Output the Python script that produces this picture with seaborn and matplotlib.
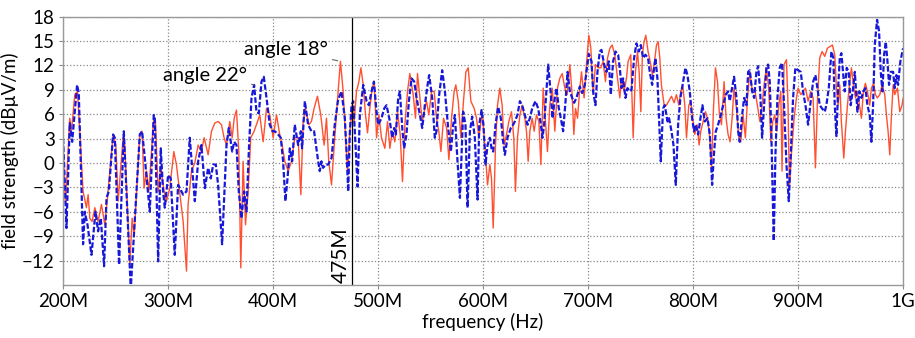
from __future__ import annotations

import matplotlib

matplotlib.use("Agg")
import matplotlib.pyplot as plt
import pandas as pd
import seaborn as sns

# angle 18 deg (orange, solid)
FREQ_18 = [
    200, 202.2, 206.3, 207.9, 211.1, 213.7, 219, 222.2, 223.8, 225.4,
    227.6, 230.2, 233.3, 236.5, 239.7, 242.2, 247.6, 250.2, 252.4, 257.1,
    258.7, 263.5, 265.7, 267.6, 273, 275.2, 277.1, 279.4, 281.6, 286.3,
    287.9, 290.5, 293, 296.2, 298.4, 301.6, 305.4, 307.9, 314.3, 317.5,
    319, 322.2, 325.4, 328.6, 331.7, 334.3, 338.1, 341.3, 344.4, 347.6,
    350.8, 353.3, 355.6, 358.7, 361, 362.9, 365.1, 367.3, 369.2, 371.4,
    373.7, 376.2, 378.7, 381.9, 385.1, 387.3, 390.5, 393.7, 396.8, 400,
    403.2, 406.3, 408.6, 411.1, 414.3, 417.5, 420.6, 423.8, 426.4, 428.6,
    430.8, 434, 436.5, 439, 442.2, 445.4, 448.6, 450.8, 453, 455.6,
    458.7, 461.9, 464.1, 466.7, 469, 470.9, 473.1, 475.3, 477.2, 479.4,
    481.7, 483.6, 485.8, 488, 489.9, 492.1, 494.4, 496.3, 498.5, 500.7,
    503.2, 506.4, 509, 511.2, 513.4, 515.9, 518.5, 521, 523.2, 525.5,
    528, 530.2, 533.4, 535.6, 537.5, 539.8, 542, 544.5, 546.1, 548.3,
    550.9, 553.4, 555.6, 557.8, 559.8, 562.3, 565.2, 567.4, 569.9, 572.4,
    574, 576.3, 578.8, 581.3, 583.6, 585.8, 588.3, 591.5, 593.7, 596,
    599.1, 601.6, 604.2, 606.4, 608, 609.6, 611.8, 613.7, 615.9, 618.1,
    620, 622.3, 624.5, 627, 629.2, 630.8, 632.7, 635, 637.2, 639.7,
    641.3, 642.9, 644.5, 646.7, 648.6, 650.8, 653.1, 655, 657.2, 659.4,
    661.3, 663.5, 665.8, 668.3, 670.8, 673, 675.3, 677.8, 680, 682.6,
    684.8, 686.4, 688, 689.9, 692.1, 693.7, 696.2, 698.4, 700.7, 702.6,
    704.8, 707, 709.6, 712.1, 714.3, 716.5, 718.5, 720.7, 722.9, 725.4,
    728, 730.2, 731.8, 734.3, 736.5, 738.1, 740.6, 742.9, 745.1, 747,
    748.6, 750.2, 751.7, 753.3, 754.9, 757.1, 759.7, 761.3, 762.9, 765.1,
    766.7, 768.3, 769.8, 772.4, 774.6, 776.8, 779.4, 781.9, 784.1, 786.4,
    788.3, 790.2, 792.1, 793.7, 795.9, 797.8, 800, 801.6, 803.8, 805.7,
    807.3, 809.5, 811.8, 813.7, 815.9, 817.5, 819.4, 821.3, 823.2, 825.1,
    827, 829.5, 831.4, 833.3, 835.2, 837.1, 839, 841.3, 843.5, 845.4,
    847.6, 849.8, 851.8, 854, 856.2, 858.7, 861.2, 863.5, 865.1, 867.6,
    869.8, 872, 874, 875.8, 877.7, 879.7, 881.6, 883.5, 884.7, 886.6,
    888.9, 890.4, 891.7, 893.6, 896.2, 898.4, 900, 902.5, 904.7, 907,
    909.5, 912, 914.3, 916.5, 918.4, 920.6, 922.8, 925.4, 927.9, 930.1,
    932.7, 934.9, 936.5, 938.1, 939.7, 941.2, 943.5, 945.1, 947, 948.9,
    950.8, 952.7, 954.6, 956.5, 958.4, 960.3, 962.2, 964.1, 966, 968.2,
    969.8, 972, 973.6, 975.5, 977.8, 980, 982.5, 984.1, 985.7, 987.3,
    988.9, 990.5, 992, 994.6, 996.8, 999, 1000,
]
FIELD_18 = [
    2.2, -5.1, 5.5, 3.9, 8.4, 8.8, -3.5, -5.5, -3.9, -6.8,
    -7.2, -5.5, -7.2, -5.1, -7.6, -4.3, 3.5, 2.2, -4.7, 3.1,
    2.2, -12.5, -6.8, -9.0, 3.5, 3.9, -3.1, -1.0, -3.5, 5.5,
    5.1, -3.5, -0.6, -3.5, -4.7, -3.1, 1.4, -0.2, -7.2, -13.3,
    -5.1, -1.0, 0.0, 2.2, 1.4, 3.1, 1.0, 3.9, 4.9, 5.1,
    4.7, 3.1, 2.2, 5.1, 3.1, 5.5, 6.5, 1.4, -12.9, 0.2,
    -7.6, -3.5, 3.1, 3.9, 5.1, 5.9, 2.6, 6.7, 5.9, 3.1,
    5.9, 3.5, 2.2, 0.2, -1.0, 0.2, 3.1, 3.1, -3.9, 5.1,
    6.7, 4.7, 5.1, 6.7, 8.2, 5.9, 2.2, 5.5, 0.2, -2.7,
    3.1, 8.8, 12.5, 8.8, 3.1, -1.0, 3.9, 7.1, 5.1, 8.8,
    10.0, 11.7, 9.6, 5.9, 3.7, 6.7, 9.2, 10.0, 3.1, 5.9,
    3.1, 1.8, 5.1, 1.8, 3.9, 2.6, 6.3, 3.5, -2.3, 4.7,
    8.8, 11.0, 8.4, 5.5, 11.0, 8.0, 5.1, 6.7, 7.6, 5.9,
    8.8, 8.8, 5.5, 3.9, 1.4, 5.5, 4.3, 0.4, 5.5, 8.8,
    9.6, 7.6, 3.1, 7.6, 11.2, 11.7, 7.6, 6.7, 5.5, 3.1,
    6.3, 2.2, -2.7, -0.2, -1.9, -8.0, 2.2, 7.1, 9.2, 7.1,
    2.2, 3.5, 5.1, 6.3, 3.1, -3.5, 3.1, 5.9, 7.1, 5.5,
    3.9, 0.2, 3.9, 5.5, 3.9, 5.9, 5.1, -0.2, 9.2, 5.1,
    1.4, 7.1, 9.2, 3.9, 9.2, 10.4, 11.0, 9.2, 8.4, 12.1,
    8.4, 3.5, 6.7, 5.5, 9.2, 11.2, 8.0, 12.1, 15.7, 14.1,
    8.4, 12.1, 11.7, 11.7, 12.5, 10.0, 12.9, 14.1, 14.5, 13.3,
    10.4, 8.0, 10.4, 8.8, 10.4, 12.5, 13.3, 3.1, 11.2, 13.7,
    11.2, 6.3, 13.3, 14.9, 15.7, 13.7, 12.1, 10.8, 12.1, 14.5,
    14.9, 12.9, 9.6, 7.1, 7.1, 7.6, 8.2, 7.4, 8.4, 7.1,
    8.8, 9.4, 7.1, 3.1, 7.1, 7.6, 5.1, 3.5, 4.7, 2.2,
    3.9, 5.1, 6.3, 5.5, 3.1, -0.6, 6.7, 11.7, 10.0, 5.9,
    4.7, 10.0, 5.5, 3.5, 2.6, 5.5, 9.2, 6.7, 3.1, 2.6,
    5.9, 3.1, 8.0, 11.2, 9.0, 9.0, 7.1, 5.1, 6.3, 9.6,
    11.7, 9.2, 2.6, 5.1, 5.9, 3.9, 7.1, 8.8, -1.0, 12.1,
    12.7, 7.1, -3.1, 1.0, 5.5, 8.0, 9.2, 8.4, 8.8, 9.2,
    7.6, 8.8, 8.0, -0.6, 7.6, 12.9, 13.7, 13.1, 14.1, 14.3,
    14.5, 13.3, 9.2, 7.1, 9.6, 5.1, 0.6, 3.9, 7.1, 9.6,
    11.7, 9.6, 8.0, 8.8, 7.1, 5.5, 8.8, 9.8, 8.8, 7.1,
    9.2, 9.8, 8.4, 8.0, 8.4, 9.6, 8.4, 5.9, 3.9, 1.0,
    5.9, 9.6, 8.4, 9.2, 6.3, 7.1, 8.0,
]

# angle 22 deg (blue, dashed)
FREQ_22 = [
    200, 203.2, 206.3, 208.6, 213.3, 214.9, 219, 220.6, 223.2, 227,
    230.8, 233.3, 235.9, 239, 241.3, 243.5, 247.6, 249.2, 253.3, 257.8,
    264.4, 273, 275.2, 277.8, 282.5, 286.3, 287.3, 290.5, 293, 295.2,
    296.8, 300, 302.5, 306.3, 309.5, 314.3, 317.5, 320.6, 325.4, 328.6,
    331.7, 335, 338.1, 340.6, 342.9, 345.4, 347.6, 351.4, 355.6, 357.8,
    361, 362.9, 365.1, 367.3, 369.8, 372.4, 374.6, 377.1, 379.4, 381.9,
    384.1, 386.4, 388.9, 391.1, 393.7, 396.8, 399.4, 401.6, 404.8, 407.3,
    409.5, 411.7, 413.7, 415.9, 418.1, 420.6, 423.8, 426.4, 427.6, 430.2,
    433.3, 436.5, 439, 442.9, 444.4, 446, 447.6, 450.2, 452.4, 455.6,
    458.7, 461.9, 465.1, 468.3, 469.9, 471.5, 473.1, 474.7, 476.3, 477.8,
    480.4, 482.6, 485.8, 489, 491.2, 493.7, 496, 498.5, 500.1, 503.2,
    505.8, 508, 511.2, 513.4, 515.3, 516.9, 519.1, 520.7, 523.2, 524.8,
    527, 529.3, 531.8, 534.4, 536.6, 539.8, 542, 544.5, 547.1, 548.6,
    551.5, 554, 555.6, 557.8, 561, 563.6, 566.7, 569.3, 571.5, 573.1,
    575.6, 577.9, 581, 583.2, 585.2, 587.4, 589.6, 592.1, 594.7, 596.3,
    598.5, 600.3, 602.3, 604.2, 606.4, 608, 609.6, 611.8, 614.3, 616.9,
    619.1, 620.7, 623.2, 626.4, 628.6, 630.2, 632.7, 635, 637.2, 639.7,
    642.3, 644.5, 646.7, 649.9, 652.4, 654.6, 656.5, 658.1, 660, 662,
    664.2, 666.1, 668.3, 669.9, 672.1, 674, 676.2, 678.5, 680.4, 682.6,
    684.8, 686.7, 688.9, 692.1, 694.3, 696.9, 698.4, 700.7, 703.2, 704.8,
    707, 708.9, 711.1, 712.7, 715.3, 717.5, 719.7, 721.6, 723.8, 726.1,
    728.6, 730.5, 731.8, 733.3, 735.6, 737.5, 739.7, 741.3, 743.8, 746,
    748.3, 750.2, 752.4, 754.6, 757.1, 758.7, 761, 762.9, 764.1, 766,
    767.3, 769.2, 771.4, 773, 775.6, 777.1, 779.4, 781.3, 783.5, 785.7,
    787.9, 790.5, 792.7, 794.6, 796.8, 799, 800.9, 802.5, 804.8, 807,
    808.9, 811.1, 813.7, 815.9, 818.1, 820, 821.6, 823.8, 826.4, 828.6,
    831.1, 833.3, 834.9, 837.1, 839, 841.3, 842.9, 844.4, 846.7, 848.6,
    850.8, 852.4, 854, 856.2, 858.1, 860.3, 861.9, 863.8, 865.7, 867.6,
    869.8, 871.4, 873, 874.6, 876.8, 878.4, 880.3, 882.5, 884.7, 886.6,
    888.9, 891.1, 893, 895.2, 897.4, 900, 902.5, 904.7, 907, 909.5,
    912, 914.3, 916.5, 918.4, 920.6, 922.8, 925.4, 926.9, 929.2, 931.7,
    933.6, 934.9, 936.5, 938.1, 939.7, 941.2, 942.8, 944.4, 946.3, 948.2,
    950.1, 952.4, 954, 956.5, 958.4, 960.3, 962.2, 964.1, 966, 968.2,
    969.8, 971.4, 973, 975.2, 977.1, 978.7, 980.3, 981.9, 983.5, 985.1,
    986.6, 988.2, 990.5, 992, 993.6, 995.2, 997.4, 1000,
]
FIELD_22 = [
    3.0, -8.0, 4.9, 2.6, 9.6, 8.6, -10.0, -6.0, -7.6, -11.3,
    -6.0, -8.4, -6.8, -12.7, -4.3, -3.5, 3.5, 3.1, -12.5, 3.9,
    -15.5, 3.5, 3.9, 0.6, -6.0, 5.9, 5.5, -12.1, 1.8, -3.5,
    -5.5, -1.5, -1.9, -11.3, -2.7, -3.9, -3.5, 3.1, -4.7, 0.2,
    2.2, -3.1, -0.6, -1.9, -0.2, -0.2, -2.7, -10.0, 2.2, 4.3,
    1.4, 2.6, 2.2, -3.5, -6.8, -3.5, -6.0, 2.2, 8.0, 9.6,
    6.3, 6.1, 10.0, 10.6, 8.0, 4.7, 3.9, 3.9, 3.5, 3.1,
    0.2, -4.7, -1.9, 1.8, 0.2, 4.7, 2.2, 3.9, 1.8, 7.6,
    4.7, 3.9, 3.9, 0.2, -1.0, 0.2, -0.6, -0.2, -0.2, 0.6,
    4.7, 7.8, 8.8, 5.5, 1.4, -3.5, 3.9, 7.1, 7.6, 3.9,
    -2.9, 5.9, 9.6, 7.6, 7.1, 8.8, 10.0, 6.3, 4.7, 5.5,
    6.7, 7.1, 5.1, 3.1, 4.3, 3.5, 8.0, 8.8, 3.9, 1.8,
    3.5, 7.6, 10.4, 10.0, 8.0, 5.9, 4.3, 7.1, 9.6, 10.8,
    8.0, 3.1, 3.9, 8.0, 11.4, 8.8, 4.3, 1.4, 4.7, 5.9,
    0.2, -4.3, 6.3, 4.7, -5.5, 3.9, 5.7, 3.1, -4.5, 4.7,
    6.5, 4.7, -0.2, 2.2, 3.1, 1.8, 1.4, 4.7, 6.9, 5.5,
    2.6, 1.0, 3.1, 4.3, 4.7, 5.1, 5.9, 7.6, 7.1, 5.9,
    4.7, 5.5, 6.7, 7.6, 6.7, 5.1, 3.1, 4.7, 8.4, 12.1,
    8.8, 5.5, 8.0, 9.2, 6.7, 5.5, 3.9, 7.6, 11.2, 8.8,
    8.0, 7.4, 8.0, 9.4, 8.6, 9.6, 11.2, 13.4, 12.5, 8.8,
    7.1, 11.2, 13.7, 13.9, 12.1, 11.2, 12.5, 8.4, 12.5, 13.7,
    13.3, 11.2, 9.2, 10.4, 8.0, 9.2, 8.8, 9.0, 12.9, 14.7,
    13.7, 14.5, 12.9, 13.3, 12.9, 11.2, 9.6, 11.7, 12.9, 10.4,
    6.3, 0.2, 6.7, 7.1, 5.1, 5.5, 3.9, 2.2, -2.7, 4.7,
    8.0, 10.0, 11.7, 10.8, 8.8, 5.5, 3.9, 4.7, 3.5, 5.5,
    7.1, 5.1, 5.5, 3.5, -2.7, 1.4, 3.9, 4.7, 5.9, 7.1,
    8.4, 8.8, 7.6, 9.2, 10.6, 8.0, 3.9, 2.6, 5.9, 8.0,
    7.1, 11.2, 11.4, 8.8, 8.0, 11.2, 11.9, 9.0, 3.1, 7.1,
    11.7, 12.1, 10.0, 3.1, -9.6, 1.0, 8.0, 11.7, 12.3, 7.1,
    -0.2, -4.7, 1.0, 8.0, 11.7, 11.4, 11.2, 8.8, 7.1, 4.7,
    7.6, 10.0, 10.8, 9.2, 7.1, 6.7, 6.3, 7.1, 9.2, 13.7,
    12.9, 7.1, 3.3, 9.2, 12.9, 13.5, 11.2, 8.8, 11.7, 11.2,
    7.1, 9.2, 11.2, 6.3, 8.8, 8.0, 8.8, 9.2, 7.1, 5.9,
    2.6, 7.1, 14.5, 17.6, 16.2, 11.2, 8.8, 13.3, 14.9, 12.5,
    9.6, 11.2, 11.2, 9.2, 10.8, 9.6, 12.5, 14.1,
]

X_TICKS = [200, 300, 400, 500, 600, 700, 800, 900, 1000]
X_LABELS = ["200M", "300M", "400M", "500M", "600M", "700M", "800M", "900M", "1G"]
Y_TICKS = [-12, -9, -6, -3, 0, 3, 6, 9, 12, 15, 18]
MARKER_FREQ = 475


def main() -> None:
    sns.set_theme(style="white", rc={"text.color": "black", "axes.labelcolor": "black",
                                     "xtick.color": "black", "ytick.color": "black"})
    plt.rcParams["font.family"] = ["Lato", "DejaVu Sans"]

    fig, ax = plt.subplots(figsize=(9.15, 3.38), dpi=100)
    fig.subplots_adjust(left=0.069, right=0.987, top=0.951, bottom=0.157)

    df18 = pd.DataFrame({"freq": FREQ_18, "field": FIELD_18})
    df22 = pd.DataFrame({"freq": FREQ_22, "field": FIELD_22})

    sns.lineplot(data=df18, x="freq", y="field", color="#ff5030", linewidth=1.0,
                 estimator=None, sort=False, ax=ax)
    sns.lineplot(data=df22, x="freq", y="field", color="#1818d8", linewidth=1.6,
                 linestyle=(0, (2.5, 1.0)), estimator=None, sort=False, ax=ax)

    ax.axvline(MARKER_FREQ, color="black", linewidth=0.9)
    ax.text(MARKER_FREQ - 1, -14.8, "475M", rotation=90, ha="right", va="bottom", fontsize=15)

    ax.annotate("angle 18°", xy=(464.1, 12.5), xytext=(452, 13.9), ha="right", va="center",
                fontsize=14.5, arrowprops=dict(arrowstyle="-", color="#666666", lw=0.8,
                                               shrinkA=1, shrinkB=2))
    ax.annotate("angle 22°", xy=(381.9, 9.6), xytext=(375, 10.8), ha="right", va="center",
                fontsize=14.5, arrowprops=dict(arrowstyle="-", color="#666666", lw=0.8,
                                               shrinkA=1, shrinkB=2))

    ax.set_xlim(200, 1000)
    ax.set_ylim(-15, 18)
    ax.set_xticks(X_TICKS)
    ax.set_xticklabels(X_LABELS)
    ax.set_yticks(Y_TICKS)
    ax.tick_params(axis="both", labelsize=13.5, direction="out", length=3, width=0.8,
                   bottom=True, left=True, color="#888888", pad=3)
    ax.grid(True, color="#888888", linestyle=":", linewidth=0.9)
    for spine in ax.spines.values():
        spine.set_color("#999999")
        spine.set_linewidth(1.0)

    ax.set_xlabel("frequency (Hz)", fontsize=13.5, labelpad=2)
    ax.set_ylabel("field strength (dBµV/m)", fontsize=13.5, labelpad=2)

    fig.savefig("out.png", dpi=100)
    plt.close(fig)


if __name__ == "__main__":
    main()
